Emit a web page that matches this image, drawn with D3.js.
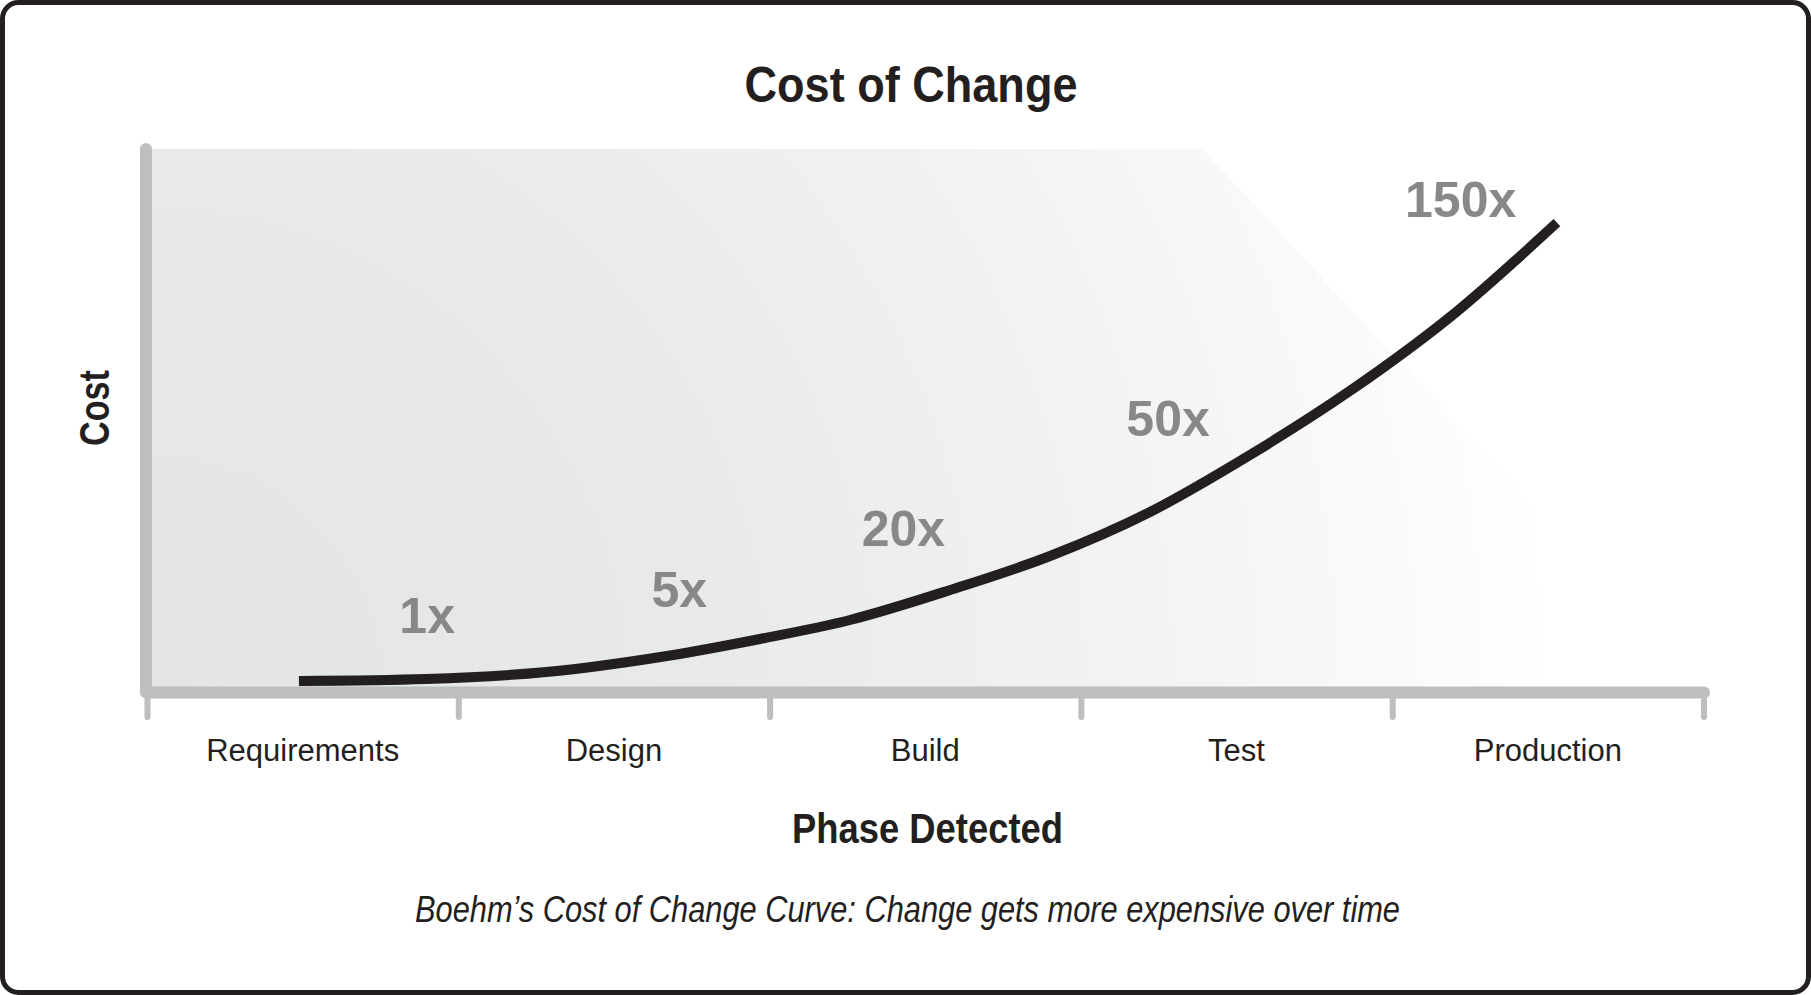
<!DOCTYPE html>
<html>
<head>
<meta charset="utf-8">
<script src="https://cdn.jsdelivr.net/npm/d3@7"></script>
<style>
  html, body { margin: 0; padding: 0; background: #ffffff; }
  svg { display: block; }
  text { font-family: "Liberation Sans", Arial, sans-serif; }
</style>
</head>
<body>
<svg id="chart" width="1811" height="995"></svg>
<script>
// ---- data ----
const categories = ["Requirements", "Design", "Build", "Test", "Production"];
const multiplierLabels = ["1x", "5x", "20x", "50x", "150x"];
// label anchors in (phase, cost) data units
const labelPhase = [0.90, 1.71, 2.43, 3.28, 4.22];
const labelCost = [16.3, 24.8, 44.7, 80.5, 152];
// curve readings: phase position (0..5) and relative cost
const curvePhase = [0.488, 0.896, 1.282, 1.670, 1.969, 2.258, 2.580, 2.901, 3.222, 3.543, 3.864, 4.186, 4.529];
const curveCost  = [0.65, 1.30, 3.58, 8.80, 14.34, 20.53, 30.30, 41.38, 55.72, 74.29, 95.15, 119.26, 150];
// background panel outline in (phase, cost) units
const panelPhase = [0, 3.39, 5, 0];
const panelCost  = [174, 174, -2, -2];
const tickValues = [0, 1, 2, 3, 4, 5];

const title = "Cost of Change";
const xTitle = "Phase Detected";
const yTitle = "Cost";
const caption = "Boehm\u2019s Cost of Change Curve: Change gets more expensive over time";

// ---- drawing ----
const svg = d3.select("#chart");
const W = 1811, H = 995;

const x = d3.scaleLinear().domain([0, 5]).range([147, 1703.5]);
const xBand = d3.scaleBand().domain(categories).range([147, 1703.5]).padding(0);
const y = d3.scaleLinear().domain([0, 174]).range([683, 149]);

const defs = svg.append("defs");
const grad = defs.append("radialGradient")
  .attr("id", "bg")
  .attr("gradientUnits", "userSpaceOnUse")
  .attr("cx", x(0)).attr("cy", y(-2))
  .attr("fx", x(0)).attr("fy", y(-2))
  .attr("r", x(5) - x(0));
[[0, "#e3e4e5"], [0.35, "#e8e9ea"], [0.5, "#edeeee"], [0.62, "#f2f2f3"], [0.74, "#f7f7f7"], [0.83, "#fbfbfb"], [0.9, "#ffffff"]].forEach(([o, c]) =>
  grad.append("stop").attr("offset", o).attr("stop-color", c));

// frame
svg.append("rect")
  .attr("x", 2.5).attr("y", 2.5)
  .attr("width", W - 5).attr("height", H - 5)
  .attr("rx", 16).attr("ry", 16)
  .attr("fill", "#ffffff")
  .attr("stroke", "#231f20").attr("stroke-width", 5);

// background panel
const panelPts = panelPhase.map((p, i) => [x(p), y(panelCost[i])]);
svg.append("path")
  .attr("d", d3.line()(panelPts) + "Z")
  .attr("fill", "url(#bg)");

// y axis (bar)
const yAxis = d3.axisLeft(y).tickValues([]).tickSizeOuter(0);
const gy = svg.append("g").attr("transform", `translate(${x(0) - 1},0)`).call(yAxis);
gy.select(".domain")
  .attr("d", `M0,${y(174)}V${y(-3)}`)
  .attr("stroke", "#bcbec0").attr("stroke-width", 12)
  .attr("stroke-linecap", "round");

// x axis
const xAxis = d3.axisBottom(x).tickValues(tickValues).tickSize(25).tickSizeOuter(0).tickFormat("");
const gx = svg.append("g").attr("transform", `translate(0,692)`).call(xAxis);
gx.select(".domain")
  .attr("stroke", "#bcbec0").attr("stroke-width", 12)
  .attr("stroke-linejoin", "round").attr("stroke-linecap", "round");
gx.selectAll(".tick line")
  .attr("stroke", "#bcbec0").attr("stroke-width", 6)
  .attr("stroke-linecap", "round");

// category labels
svg.append("g").selectAll("text").data(categories).join("text")
  .attr("x", d => xBand(d) + xBand.bandwidth() / 2)
  .attr("y", 761)
  .attr("text-anchor", "middle")
  .attr("font-size", 31)
  .attr("fill", "#231f20")
  .text(d => d);

// curve
const pts = curvePhase.map((p, i) => [x(p), y(curveCost[i])]);
svg.append("path")
  .attr("d", d3.line().curve(d3.curveMonotoneX)(pts))
  .attr("fill", "none")
  .attr("stroke", "#231f20")
  .attr("stroke-width", 10)
  .attr("stroke-linecap", "butt");

// multiplier labels
svg.append("g").selectAll("text").data(multiplierLabels).join("text")
  .attr("x", (d, i) => x(labelPhase[i]))
  .attr("y", (d, i) => y(labelCost[i]))
  .attr("text-anchor", "middle")
  .attr("font-size", 50)
  .attr("font-weight", "bold")
  .attr("fill", "#87888a")
  .text(d => d);

// title
svg.append("text")
  .attr("x", 911).attr("y", 102)
  .attr("text-anchor", "middle")
  .attr("font-size", 50).attr("font-weight", "bold")
  .attr("fill", "#231f20")
  .attr("textLength", 333).attr("lengthAdjust", "spacingAndGlyphs")
  .text(title);

// x title
svg.append("text")
  .attr("x", 927.5).attr("y", 843)
  .attr("text-anchor", "middle")
  .attr("font-size", 42).attr("font-weight", "bold")
  .attr("fill", "#231f20")
  .attr("textLength", 271).attr("lengthAdjust", "spacingAndGlyphs")
  .text(xTitle);

// y title
svg.append("text")
  .attr("transform", "translate(109,408) rotate(-90)")
  .attr("text-anchor", "middle")
  .attr("font-size", 43).attr("font-weight", "bold")
  .attr("fill", "#231f20")
  .attr("textLength", 76).attr("lengthAdjust", "spacingAndGlyphs")
  .text(yTitle);

// caption
svg.append("text")
  .attr("x", 907.5).attr("y", 922)
  .attr("text-anchor", "middle")
  .attr("font-size", 36).attr("font-style", "italic")
  .attr("fill", "#231f20")
  .attr("textLength", 985).attr("lengthAdjust", "spacingAndGlyphs")
  .text(caption);
</script>
</body>
</html>
